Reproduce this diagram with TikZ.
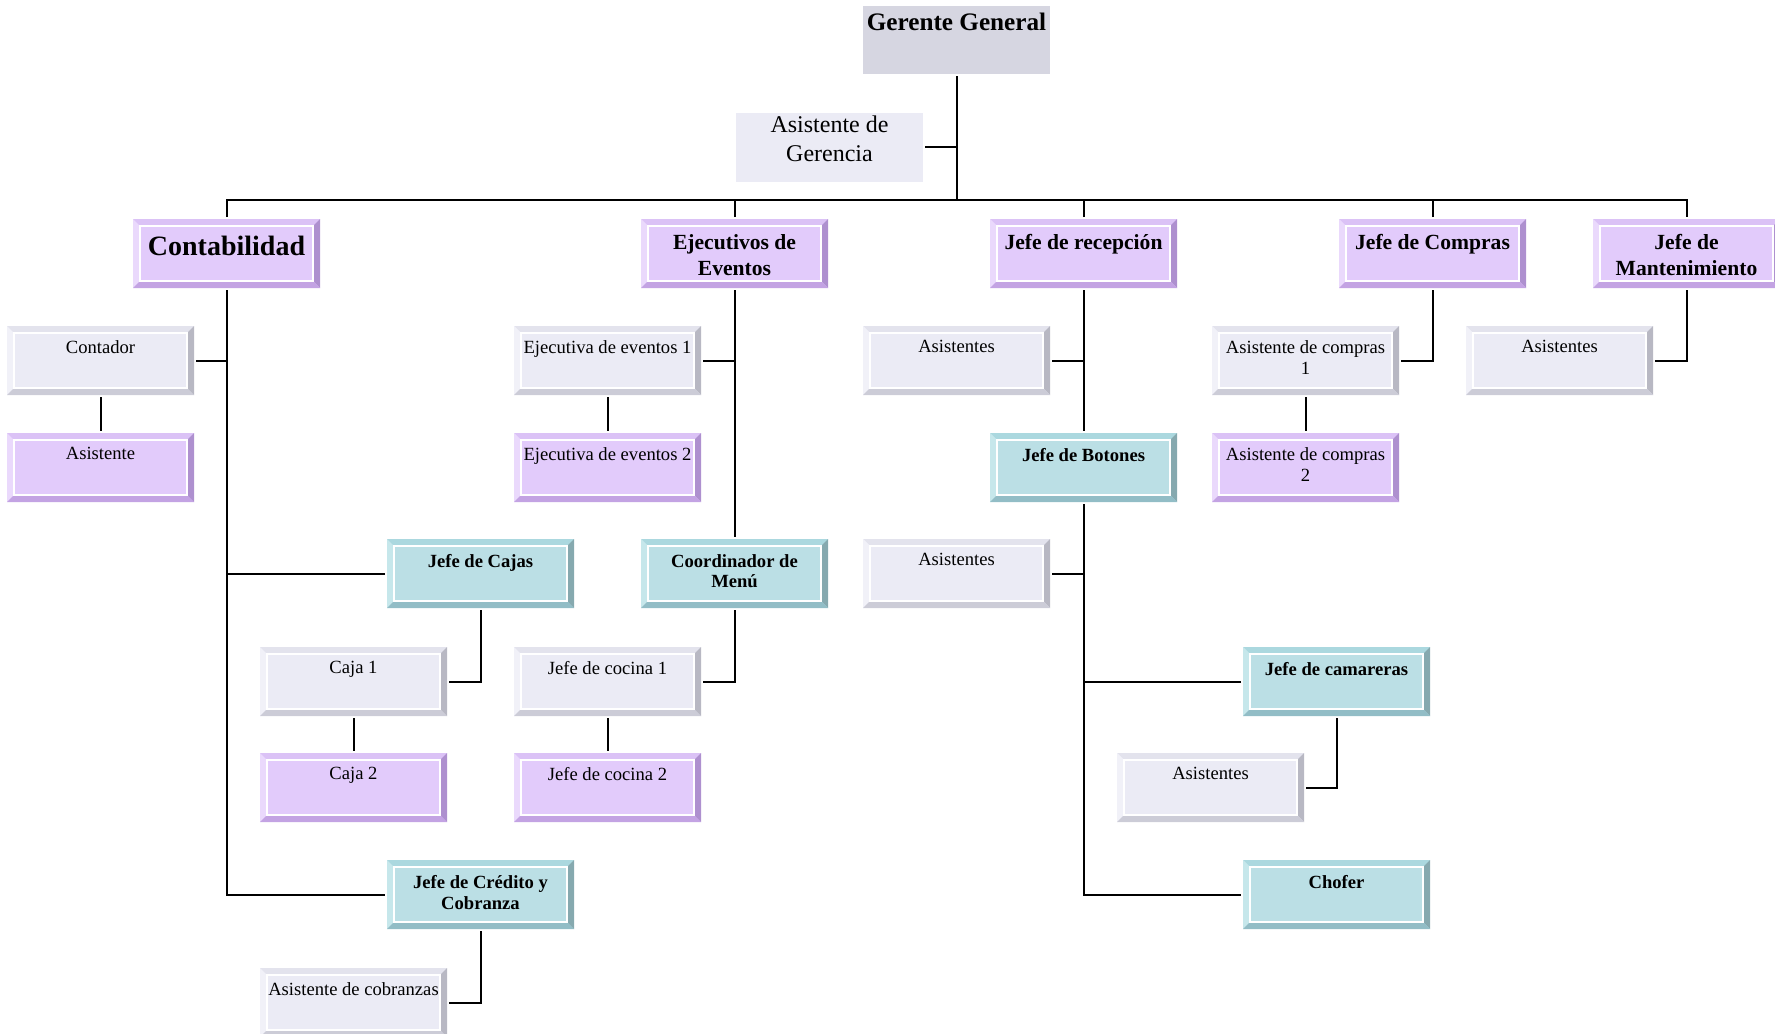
\documentclass[tikz,border=0pt]{standalone}
\usepackage{fontspec}
\setmainfont{Liberation Serif}
\usetikzlibrary{calc}

\definecolor{grayface}{HTML}{EBEBF5}
\definecolor{graytop}{HTML}{E3E3ED}
\definecolor{grayleft}{HTML}{F1F1F8}
\definecolor{grayright}{HTML}{B8B8C3}
\definecolor{graybottom}{HTML}{CCCCD7}
\definecolor{lilacface}{HTML}{E2CBFB}
\definecolor{lilactop}{HTML}{DBC2F6}
\definecolor{lilacleft}{HTML}{EAD9FC}
\definecolor{lilacright}{HTML}{AE90CF}
\definecolor{lilacbottom}{HTML}{C3A3E3}
\definecolor{tealface}{HTML}{BBDFE5}
\definecolor{tealtop}{HTML}{ABD8DF}
\definecolor{tealleft}{HTML}{C6E7EB}
\definecolor{tealright}{HTML}{86A9AF}
\definecolor{tealbottom}{HTML}{92BDC6}
\definecolor{gerenteface}{HTML}{D6D6E1}

\tikzset{
	bevel/.style n args={5}{fill=#5, path picture={
		\fill[#1] (path picture bounding box.north west) -- (path picture bounding box.north east)
			-- ([shift={(-3.5pt,-3.5pt)}]path picture bounding box.north east)
			-- ([shift={(3.5pt,-3.5pt)}]path picture bounding box.north west) -- cycle;
		\fill[#2] (path picture bounding box.north west) -- (path picture bounding box.south west)
			-- ([shift={(3.5pt,3.5pt)}]path picture bounding box.south west)
			-- ([shift={(3.5pt,-3.5pt)}]path picture bounding box.north west) -- cycle;
		\fill[#3] (path picture bounding box.north east) -- (path picture bounding box.south east)
			-- ([shift={(-3.5pt,3.5pt)}]path picture bounding box.south east)
			-- ([shift={(-3.5pt,-3.5pt)}]path picture bounding box.north east) -- cycle;
		\fill[#4] (path picture bounding box.south west) -- (path picture bounding box.south east)
			-- ([shift={(-3.5pt,3.5pt)}]path picture bounding box.south east)
			-- ([shift={(3.5pt,3.5pt)}]path picture bounding box.south west) -- cycle;
		\draw[white, line width=0.6pt] ([shift={(3.5pt,-3.5pt)}]path picture bounding box.north west)
			rectangle ([shift={(-3.5pt,3.5pt)}]path picture bounding box.south east);
	}},
	orgbox/.style={rectangle, inner sep=0pt, outer sep=1pt, minimum width=93.5pt, minimum height=34.5pt},
	graybox/.style={orgbox, bevel={graytop}{grayleft}{grayright}{graybottom}{grayface}},
	lilacbox/.style={orgbox, bevel={lilactop}{lilacleft}{lilacright}{lilacbottom}{lilacface}},
	tealbox/.style={orgbox, bevel={tealtop}{tealleft}{tealright}{tealbottom}{tealface}},
	flatbox/.style={orgbox, fill=#1},
	boxtext/.style={anchor=north, inner sep=0pt, outer sep=0pt, align=center},
	subtext/.style={boxtext, font=\fontsize{9.3}{10.7}\selectfont, yshift=-8.15pt},
	chieftext/.style={boxtext, font=\bfseries\fontsize{9.3}{10.3}\selectfont, yshift=-8.65pt},
	headtext/.style={boxtext, font=\bfseries\fontsize{10.8}{13}\selectfont, yshift=-8.6pt},
	bigtext/.style={boxtext, font=\bfseries\fontsize{14}{16}\selectfont, yshift=-9.4pt},
	gentext/.style={boxtext, font=\bfseries\fontsize{12.6}{15}\selectfont, yshift=-4.4pt},
	asgtext/.style={boxtext, font=\fontsize{12}{14.5}\selectfont, yshift=-2.8pt},
	link/.style={line width=1pt}
}
\def\orgnode[#1][#2](#3)(#4)#5{\node[#1, label={[#2]north:{#5}}] (#3) at (#4) {};}

\begin{document}
\begin{tikzpicture}[x=0.5pt, y=-0.5pt]
			%%%%% START %%%%%
			\useasboundingbox (0,0) rectangle (1775,1033);
			
			\orgnode[flatbox=gerenteface, minimum height=34pt][gentext](gerente)(956.5,40){Gerente General}
			\orgnode[flatbox=grayface][asgtext](asger)(829.5,147){Asistente de\\Gerencia}
			\coordinate (bus) at (956.5,200);
			
			\orgnode[lilacbox][bigtext](conta)(226.5,253.5){Contabilidad}
			\orgnode[lilacbox][headtext](ejec)(734.5,253.5){Ejecutivos de\\Eventos}
			\orgnode[lilacbox][headtext](recep)(1083.5,253.5){Jefe de recepción}
			\orgnode[lilacbox][headtext](compras)(1432.5,253.5){Jefe de Compras}
			\orgnode[lilacbox][headtext](mant)(1686.5,253.5){Jefe de\\Mantenimiento}
			
			\orgnode[graybox][subtext](contador)(100.5,360.5){Contador}
			\orgnode[lilacbox][subtext](asiscont)(100.5,467.5){Asistente}
			\orgnode[tealbox][chieftext](cajas)(480.5,573.5){Jefe de Cajas}
			\orgnode[graybox][subtext](caja1)(353.5,681.5){Caja 1}
			\orgnode[lilacbox][subtext](caja2)(353.5,787.5){Caja 2}
			\orgnode[tealbox][chieftext](credito)(480.5,894.5){Jefe de Crédito y\\Cobranza}
			\orgnode[graybox][subtext](ascob)(353.5,1002.5){Asistente de cobranzas}
			
			\orgnode[graybox][subtext](ejev1)(607.5,360.5){Ejecutiva de eventos 1}
			\orgnode[lilacbox][subtext](ejev2)(607.5,467.5){Ejecutiva de eventos 2}
			\orgnode[tealbox][chieftext](coord)(734.5,573.5){Coordinador de\\Menú}
			\orgnode[graybox][subtext](cocina1)(607.5,681.5){Jefe de cocina 1}
			\orgnode[lilacbox][subtext](cocina2)(607.5,787.5){Jefe de cocina 2}
			
			\orgnode[graybox][subtext](asisrec)(956.5,360.5){Asistentes}
			\orgnode[tealbox][chieftext](botones)(1083.5,467.5){Jefe de Botones}
			\orgnode[graybox][subtext](asbot)(956.5,573.5){Asistentes}
			\orgnode[tealbox][chieftext](camareras)(1336.5,681.5){Jefe de camareras}
			\orgnode[graybox][subtext](ascam)(1210.5,787.5){Asistentes}
			\orgnode[tealbox][chieftext](chofer)(1336.5,894.5){Chofer}
			
			\orgnode[graybox][subtext](ascomp1)(1305.5,360.5){Asistente de compras\\1}
			\orgnode[lilacbox][subtext](ascomp2)(1305.5,467.5){Asistente de compras\\2}
			\orgnode[graybox][subtext](asmant)(1559.5,360.5){Asistentes}
			
			% top level
			\draw[link] (gerente.south) -- (bus);
			\draw[link] (asger.east) -- (asger.east -| gerente.south);
			\draw[link] (conta.north) -- (conta.north |- bus) -- (mant.north |- bus) -- (mant.north);
			\foreach \n in {ejec,recep,compras}
				\draw[link] (\n.north) -- (\n.north |- bus);
			
			% Contabilidad
			\draw[link] (conta.south) -- (conta.south |- credito.west) -- (credito.west);
			\draw[link] (contador.east) -- (contador.east -| conta.south);
			\draw[link] (cajas.west) -- (cajas.west -| conta.south);
			\draw[link] (contador.south) -- (asiscont.north);
			\draw[link] (cajas.south) |- (caja1.east);
			\draw[link] (caja1.south) -- (caja2.north);
			\draw[link] (credito.south) |- (ascob.east);
			
			% Eventos
			\draw[link] (ejec.south) -- (coord.north);
			\draw[link] (ejev1.east) -- (ejev1.east -| ejec.south);
			\draw[link] (ejev1.south) -- (ejev2.north);
			\draw[link] (coord.south) |- (cocina1.east);
			\draw[link] (cocina1.south) -- (cocina2.north);
			
			% recepcion
			\draw[link] (recep.south) -- (botones.north);
			\draw[link] (asisrec.east) -- (asisrec.east -| recep.south);
			\draw[link] (botones.south) |- (chofer.west);
			\draw[link] (asbot.east) -- (asbot.east -| botones.south);
			\draw[link] (camareras.west) -- (camareras.west -| botones.south);
			\draw[link] (camareras.south) |- (ascam.east);
			
			% Compras y Mantenimiento
			\draw[link] (compras.south) |- (ascomp1.east);
			\draw[link] (ascomp1.south) -- (ascomp2.north);
			\draw[link] (mant.south) |- (asmant.east);
			
			%%%%% END %%%%%
\end{tikzpicture}
\end{document}
